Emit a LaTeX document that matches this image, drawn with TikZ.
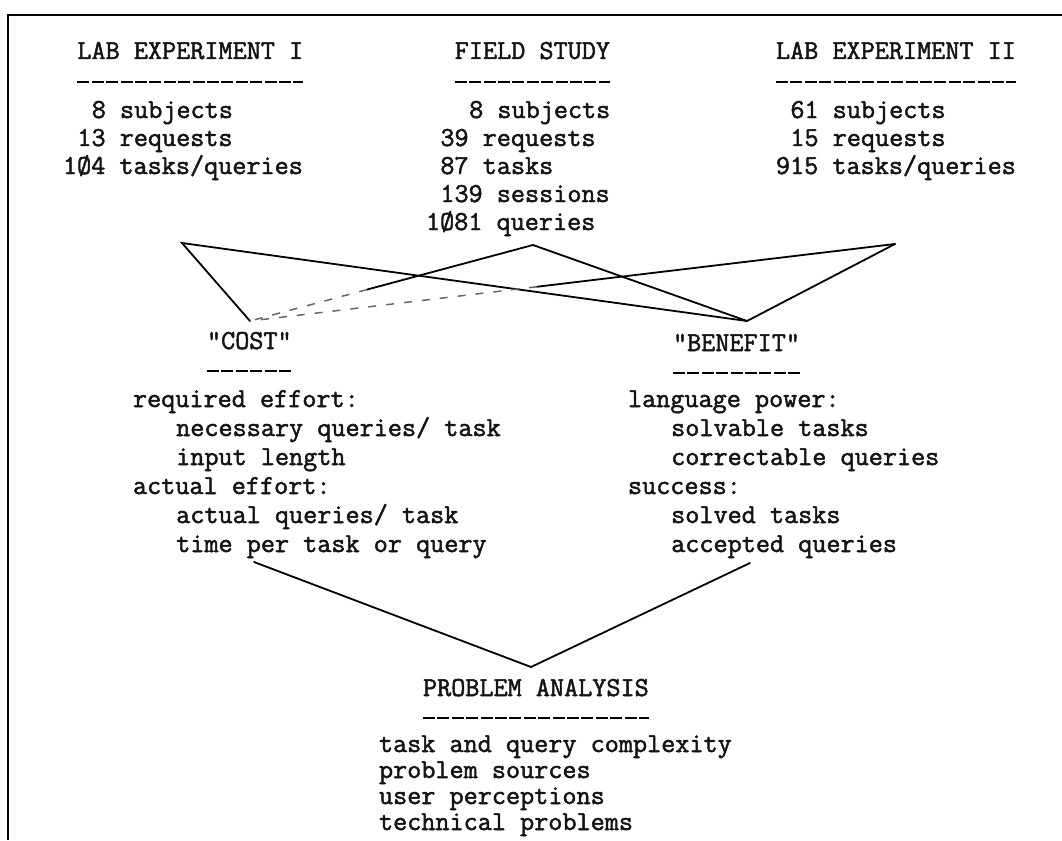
\documentclass[tikz,border=0pt]{standalone}
\usepackage{fontspec}
\setmonofont{Latin Modern Mono}[FakeBold=1.8]
\usetikzlibrary{calc}
\begin{document}
\begin{tikzpicture}[x=1pt,y=-1pt,
  tt/.style={anchor=base west, inner sep=0pt, outer sep=0pt,
    font=\ttfamily\fontsize{27.4}{29}\selectfont, text=black!92},
  rule/.style={line width=2.6pt, dash pattern=on 12pt off 2.4pt},
  link/.style={line width=1.8pt, line cap=round},
  faint/.style={line width=1.5pt, dash pattern=on 8pt off 10pt, black!60},
  frame/.style={line width=2.5pt}]
\useasboundingbox (0,0) rectangle (1062,840);
\draw[frame] (1062,15) -- (8,15) -- (8,840);

% ---- top columns ----
\node[tt] (h1) at (77.4,59) {LAB EXPERIMENT I};
\node[tt] (a1) at (91.8,118) {8 subjects};
\node[tt] (a2) at (77.4,146) {13 requests};
\node[tt] (a3) at (63,174) {1Ø4 tasks/queries};

\node[tt] (h2) at (454.8,59) {FIELD STUDY};
\node[tt] (b1) at (469.2,118) {8 subjects};
\node[tt] (b2) at (440.4,146) {39 requests};
\node[tt] (b3) at (440.4,174) {87 tasks};
\node[tt] (b4) at (440.4,202) {139 sessions};
\node[tt] (b5) at (426,230) {1Ø81 queries};

\node[tt] (h3) at (776,59) {LAB EXPERIMENT II};
\node[tt] (c1) at (790.4,118) {61 subjects};
\node[tt] (c2) at (790.4,146) {15 requests};
\node[tt] (c3) at (776,174) {915 tasks/queries};

\foreach \n in {h1,h2,h3}
  \draw[rule] ($(\n.base west)+(0,23)$) -- ($(\n.base east)+(0,23)$);

% ---- cost / benefit ----
\node[tt] (cost) at (207,349) {"COST"};
\node[tt] (ben) at (673,351) {"BENEFIT"};
\draw[rule] ($(cost.base west)+(0,22)$) -- ($(cost.base east)+(0,22)$);
\draw[rule] ($(ben.base west)+(0,22)$) -- ($(ben.base east)+(0,22)$);

\node[tt] (r1) at (133,407) {required effort:};
\node[tt] (r2) at (176.2,436) {necessary queries/ task};
\node[tt] (r3) at (176.2,465) {input length};
\node[tt] (r4) at (133,494) {actual effort:};
\node[tt] (r5) at (176.2,523) {actual queries/ task};
\node[tt] (r6) at (176.2,552) {time per task or query};

\node[tt] (s1) at (628,407) {language power:};
\node[tt] (s2) at (671.2,436) {solvable tasks};
\node[tt] (s3) at (671.2,465) {correctable queries};
\node[tt] (s4) at (628,494) {success:};
\node[tt] (s5) at (671.2,523) {solved tasks};
\node[tt] (s6) at (671.2,552) {accepted queries};

% ---- problem analysis ----
\node[tt] (pa) at (423,696) {PROBLEM ANALYSIS};
\draw[rule] ($(pa.base west)+(0,22)$) -- ($(pa.base east)+(0,22)$);
\node[tt] (p1) at (379,752) {task and query complexity};
\node[tt] (p2) at (379,778) {problem sources};
\node[tt] (p3) at (379,804) {user perceptions};
\node[tt] (p4) at (379,830) {technical problems};

% ---- connectors ----
\coordinate (la) at (182,243);
\coordinate (fa) at (533,245);
\coordinate (ra) at (895,244);
\coordinate (cp) at (250,321);
\coordinate (bp) at (747,321);
\coordinate (vl) at (254,562);
\coordinate (vr) at (750,563);
\coordinate (pp) at (531,667);

\draw[link] (cp) -- (la) -- (bp);
\draw[link] (fa) -- (bp) -- (ra);
\draw[link] (fa) -- ($(fa)!0.587!(cp)$) coordinate (fm);
\draw[faint] (fm) -- (cp);
\draw[link] (ra) -- ($(ra)!0.555!(cp)$) coordinate (rm);
\draw[faint] (rm) -- (cp);
\draw[link] (vl) -- (pp) -- (vr);
\end{tikzpicture}
\end{document}
